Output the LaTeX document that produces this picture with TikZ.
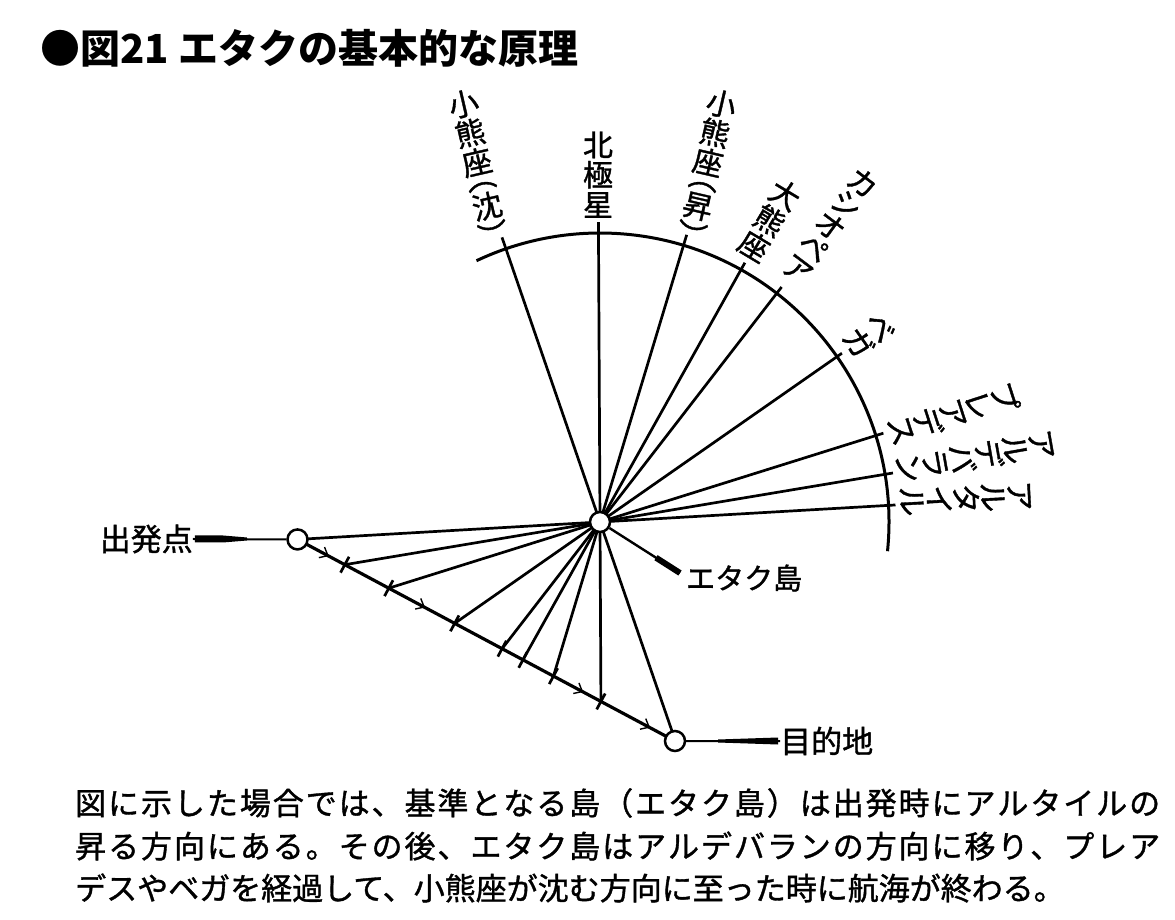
\documentclass[tikz,border=0pt]{standalone}
\usepackage{fontspec}
\setmainfont{Noto Sans CJK JP}
\newfontfamily\medf{Noto Sans CJK JP}[FakeBold=1.2]
\usetikzlibrary{calc,decorations.markings,arrows.meta}
\ExplSyntaxOn
\NewDocumentCommand\spreadline{mm}{\hbox~to~#1{\tl_map_inline:nn{#2}{##1\hfil}\unskip}}
\ExplSyntaxOff
\tikzset{mybarb/.tip={Straight Barb[length=7pt,width=12pt,line width=1.4pt]}}
\begin{document}
\begin{tikzpicture}[x=1pt,y=1pt,
  starline/.style={line width=2.7pt},
  arcline/.style={line width=3pt},
  courseline/.style={line width=3.2pt},
  tickline/.style={line width=2.7pt},
  dot/.style={circle,draw,fill=white,line width=2.5pt,minimum size=20pt,inner sep=0pt},
  lbl/.style={inner sep=0pt,font=\medf\fontsize{31}{31}\selectfont},
  vlab/.style={anchor=south,align=center,inner sep=0pt,font=\medf\fontsize{30}{30}\selectfont},
  klab/.style={anchor=south,align=center,inner sep=0pt,font=\medf\fontsize{30}{27}\selectfont},
  body/.style={anchor=west,inner sep=0pt,font=\medf\fontsize{31}{31}\selectfont}]
\useasboundingbox (-600,-398) rectangle (575,522);
\coordinate (O) at (0,0);
\coordinate (cS) at (183.3:303);
\coordinate (cD) at (288.9:231.5);
% title
\node[anchor=west,inner sep=0pt,font=\fontsize{40}{40}\selectfont\bfseries] (title) at (-560,474) {●図21 エタクの基本的な原理};
% arc
\draw[arcline] (-5.8:289) arc[start angle=-5.8,end angle=115.3,radius=289];
% star lines
\foreach \nm/\ang/\rr in {a/3.3/296,b/9.5/297,c/17.4/297,d/34.9/295,e/52.3/297,f/60.8/297,g/73.2/300,h/90.3/300,i/109.0/301}{
  \coordinate (far\nm) at (\ang+180:420);
  \coordinate (P\nm) at (intersection of cS--cD and O--far\nm);
  \coordinate (T\nm) at (\ang:\rr);
  \draw[starline] (P\nm) -- (T\nm);
}
% ticks on course
\foreach \nm in {b,c,d,e,f,g,h}{
  \draw[tickline] ($(P\nm)+(61.8:9)$) -- ($(P\nm)+(241.8:9)$);
}
% course
\draw[courseline,postaction={decorate},decoration={markings,
  mark=at position 0.083 with {\arrow{mybarb}},
  mark=at position 0.338 with {\arrow{mybarb}},
  mark=at position 0.757 with {\arrow{mybarb}},
  mark=at position 0.934 with {\arrow{mybarb}}}] (cS) -- (cD);
% circles
\node[dot] (S) at (cS) {};
\node[dot] (D) at (cD) {};
\node[dot] (E) at (O) {};
% leaders and labels
\node[lbl,anchor=east] (LS) at (-407,-17) {出発点};
\draw[line width=2pt] (LS.east) -- (S.west);
\fill ($(LS.east)+(2,3.5)$) -- ++(28,0) -- ++(24,-2) -- ++(0,-3) -- ++(-24,-2) -- ++(-28,0) -- cycle;
\node[lbl,anchor=west] (LD) at (180,-219) {目的地};
\draw[line width=2pt] (D.east) -- (LD.west);
\fill ($(LD.west)+(-2,3.5)$) -- ++(-60,-2) -- ++(0,-3) -- ++(60,-2) -- cycle;
\node[lbl,anchor=west,font=\medf\fontsize{29}{29}\selectfont] (LE) at (86,-56) {エタク島};
\coordinate (LEend) at ($(LE.west)+(-6,5)$);
\draw[line width=2.4pt] (E) -- (LEend);
\draw[line width=6pt] ($(O)!0.7!(LEend)$) -- (LEend);
% star labels
\node[vlab,rotate=13] (L1) at (-103.6,275.4) {小\\熊\\座\\[-15pt]︵\\沈\\︶};
\node[vlab] (L2) at (-2,304) {北\\極\\星};
\node[vlab,rotate=-13] (L3) at (88.6,275.4) {小\\熊\\座\\[-15pt]︵\\昇\\︶};
\node[vlab,rotate=-31] (L4) at (147,264) {大\\熊\\座};
\node[klab,rotate=-37] (L5) at (190,243) {カ\\シ\\オ\\ペ\\ア};
\node[klab,rotate=-55] (L6) at (248,172) {ベ\\ガ};
\node[klab,rotate=-72] (L7) at (290,88) {プ\\レ\\ア\\デ\\ス};
\node[klab,rotate=-80] (L8) at (297,52) {ア\\ル\\デ\\バ\\ラ\\ン};
\node[klab,rotate=-87] (L9) at (300,20) {ア\\ル\\タ\\イ\\ル};
% body text
\node[body] (t1) at (-525,-281) {\spreadline{1085pt}{図に示した場合では、基準となる島（エタク島）は出発時にアルタイルの}};
\node[body] (t2) at (-525,-324) {\spreadline{1085pt}{昇る方向にある。その後、エタク島はアルデバランの方向に移り、プレア}};
\node[body] (t3) at (-525,-366) {デスやベガを経過して、小熊座が沈む方向に至った時に航海が終わる。};
\end{tikzpicture}
\end{document}
